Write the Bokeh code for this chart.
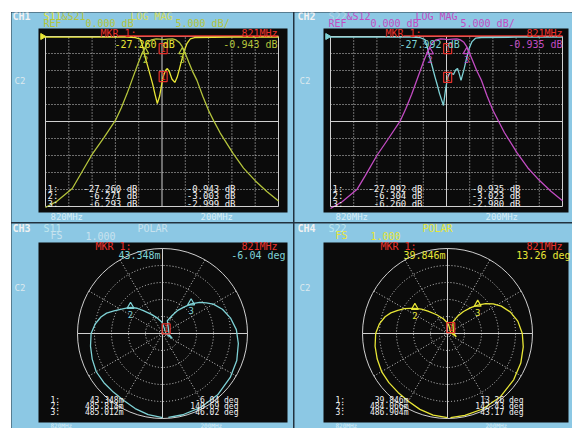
import numpy as np
from bokeh.plotting import figure
from bokeh.layouts import row, column, Spacer
from bokeh.models import Label, Range1d
from bokeh.embed import file_html
from bokeh.resources import INLINE
from bokeh.core.properties import value

# ---------------- data ----------------
center_mhz = 820.0
span_mhz = 200.0
ref_db = 0.0
scale_db = 5.0
n_div = 10
marker_freqs = [821.0, 805.7, 837.4]

ch1_s21_f = [720, 730, 743, 750, 760, 770, 780, 785, 790, 795, 800, 803, 805.7, 808, 811, 815, 818, 821,
             825, 829, 832, 835, 837.4, 840, 843, 846, 850, 855, 860, 865, 870, 881, 890, 900, 910, 920]
ch1_s21_db = [-50.3, -48.4, -44.7, -40.6, -34.7, -29.8, -24.7, -21.0, -16.8, -12.1, -7.4, -4.9, -3.0, -1.7,
              -1.0, -0.7, -0.8, -0.94, -0.8, -0.7, -1.0, -1.8, -3.0, -5.0, -7.6, -10.1, -12.9, -17.6, -21.8,
              -25.2, -28.4, -34.4, -38.7, -42.4, -45.6, -48.4]
ch1_s11_f = [720, 760, 790, 797, 801.4, 803.5, 805.7, 808, 810, 812, 814, 816, 818, 819.5, 821, 823, 824.6,
             826.5, 828.5, 831, 833, 835, 837.4, 839.5, 841.5, 844.3, 848, 880, 920]
ch1_s11_db = [-0.2, -0.2, -0.2, -0.3, -0.8, -3.0, -6.27, -9.0, -11.5, -14.0, -17.0, -19.7, -17.5, -14.5,
              -11.8, -10.0, -9.4, -10.5, -12.5, -13.5, -12.0, -9.5, -6.29, -3.8, -2.0, -0.7, -0.3, -0.2, -0.2]

ch2_s12_f = ch1_s21_f
ch2_s12_db = [-50.6, -48.6, -44.9, -40.9, -35.0, -30.0, -24.9, -21.2, -17.0, -12.3, -7.6, -5.0, -3.02, -1.7,
              -1.0, -0.7, -0.8, -0.935, -0.8, -0.7, -1.0, -1.7, -2.98, -5.0, -7.5, -10.0, -12.8, -17.5, -21.7,
              -25.0, -28.3, -34.3, -38.6, -42.3, -45.5, -48.3]
ch2_s22_f = [720, 760, 790, 797, 801.4, 803.5, 805.7, 808, 810, 812, 814, 817.4, 819, 821, 823, 826, 828,
             829.5, 831, 832.5, 835, 837.4, 839.5, 842, 845, 850, 880, 920]
ch2_s22_db = [-0.2, -0.2, -0.2, -0.3, -0.9, -3.2, -6.30, -9.2, -11.8, -14.2, -16.8, -20.3, -16.0, -12.0,
              -10.5, -11.2, -9.8, -9.4, -11.0, -12.9, -9.8, -6.26, -3.5, -1.5, -0.5, -0.3, -0.2, -0.2]

ch3_s11_ang = [-90, -100, -110, -120, -130, -140, -150, -160, -170, 180, 172, 165, 160, 155, 150, 145, 140.69,
               135, 130, 120, 108, 95, 90, -6.04, -27, -10, 69, 62, 57, 51, 46.02, 40, 35, 30, 22, 13, 3,
               -7.5, -20, -33, -48, -63, -76, -86]
ch3_s11_mag = [0.99, 0.97, 0.94, 0.91, 0.90, 0.90, 0.90, 0.88, 0.86, 0.84, 0.80, 0.75, 0.70, 0.63, 0.57, 0.52,
               0.4858, 0.42, 0.35, 0.26, 0.19, 0.14, 0.12, 0.0433, 0.13, 0.08, 0.16, 0.24, 0.32, 0.40, 0.4850,
               0.57, 0.63, 0.69, 0.76, 0.82, 0.87, 0.90, 0.93, 0.95, 0.97, 0.98, 0.985, 0.99]
ch4_s22_ang = [-90, -100, -110, -120, -130, -140, -150, -160, -170, 180, 172, 165, 160, 155, 150, 146, 142.43,
               137, 131, 120, 106, 92, 82, 13.26, -20, 5, 65, 60, 54, 48, 43.17, 38, 33, 27, 19, 10, 0,
               -10, -22, -35, -50, -65, -78, -88]
ch4_s22_mag = [0.99, 0.975, 0.95, 0.92, 0.905, 0.90, 0.895, 0.88, 0.865, 0.845, 0.81, 0.76, 0.71, 0.645,
               0.585, 0.53, 0.4841, 0.42, 0.35, 0.255, 0.18, 0.13, 0.10, 0.0398, 0.11, 0.07, 0.15, 0.23, 0.32,
               0.41, 0.4869, 0.57, 0.64, 0.71, 0.78, 0.84, 0.88, 0.905, 0.93, 0.95, 0.97, 0.98, 0.985, 0.99]

ch3_mkr_mag = [0.043348, 0.485814, 0.485012]
ch3_mkr_ang = [-6.04, 140.69, 46.02]
ch4_mkr_mag = [0.039846, 0.484066, 0.486904]
ch4_mkr_ang = [13.26, 142.43, 43.17]

ch1_read_a = ["-27.260 dB", "-6.271 dB", "-6.293 dB"]
ch1_read_b = ["-0.943 dB", "-3.003 dB", "-2.999 dB"]
ch2_read_a = ["-27.992 dB", "-6.304 dB", "-6.260 dB"]
ch2_read_b = ["-0.935 dB", "-3.023 dB", "-2.980 dB"]
ch3_read_a = ["43.348m", "485.814m", "485.012m"]
ch3_read_b = ["-6.04 deg", "140.69 deg", "46.02 deg"]
ch4_read_a = ["39.846m", "484.066m", "486.904m"]
ch4_read_b = ["13.26 deg", "142.43 deg", "43.17 deg"]

# ---------------- style ----------------
FONT = "DejaVu Sans Mono"
BLUE = "#8cc8e4"
BLACK = "#0b0b0b"
GRIDC = "#d0d0d0"
RED = "#e8322c"
YEL = "#e8e636"
OLIVE = "#b4c43c"
CYAN = "#7fd2d6"
MAG = "#c24cc2"
WHITE = "#f2f2f2"
FADE = "#d8eef8"
SEP = "#22323f"

# page-pixel geometry of each panel (figure box) and of its black screen area
PANELS = {
    "tl": dict(left=11, top=12, w=282, h=210, fl=38, ft=28, fr=287, fb=212),
    "tr": dict(left=294, top=12, w=278, h=210, fl=323, ft=28, fr=568, fb=212),
    "bl": dict(left=11, top=223, w=282, h=205, fl=38, ft=242, fr=287, fb=422),
    "br": dict(left=294, top=223, w=278, h=205, fl=323, ft=242, fr=568, fb=422),
}


def make_fig(pn, xr, yr):
    p = figure(width=pn["w"], height=pn["h"], x_range=Range1d(*xr), y_range=Range1d(*yr),
               min_border=0, min_border_left=0, min_border_right=0, min_border_top=0, min_border_bottom=0,
               toolbar_location=None, output_backend="svg", x_axis_location=None, y_axis_location=None,
               background_fill_color=BLUE, border_fill_color=BLUE, outline_line_color=None)
    p.grid.visible = False
    return p


def converter(pn, xr, yr):
    def cv(px, py):
        x = xr[0] + (px - pn["left"]) / pn["w"] * (xr[1] - xr[0])
        y = yr[1] - (py - pn["top"]) / pn["h"] * (yr[1] - yr[0])
        return x, y
    return cv


def screen_area(p, cv, pn):
    x0, y0 = cv(pn["fl"], pn["fb"])
    x1, y1 = cv(pn["fr"], pn["ft"])
    p.quad(left=[x0], right=[x1], bottom=[y0], top=[y1], fill_color=BLACK, line_color=None)


def txt(p, cv, px, py, s, color, size=10, align="left", bold=False):
    x, y = cv(px, py)
    lab = Label(x=x, y=y, text=s, text_color=color, text_font=FONT, text_font_size=f"{size}px",
                text_align=align, text_baseline="middle",
                text_font_style="bold" if bold else "normal")
    p.add_layout(lab)


def mag_panel(pn, grid, traces, dx, hdr, read_a, read_b, ch):
    gx0, gy0, gx1, gy1 = grid
    f0 = center_mhz - span_mhz / 2
    f1 = center_mhz + span_mhz / 2
    fpp = span_mhz / (gx1 - gx0)
    bottom_db = ref_db - n_div * scale_db
    dpp = (n_div * scale_db) / (gy1 - gy0)
    xr = (f0 - (gx0 - pn["left"]) * fpp, f1 + (pn["left"] + pn["w"] - gx1) * fpp)
    yr = (bottom_db - (pn["top"] + pn["h"] - gy1) * dpp, ref_db + (gy0 - pn["top"]) * dpp)
    p = make_fig(pn, xr, yr)
    cv = converter(pn, xr, yr)
    screen_area(p, cv, pn)

    fk = [f0 + k * span_mhz / n_div for k in range(n_div + 1)]
    dk = [ref_db - k * scale_db for k in range(n_div + 1)]
    solid = (0, n_div // 2, n_div)
    dot_f = [fk[k] for k in range(n_div + 1) if k not in solid]
    dot_d = [dk[k] for k in range(n_div + 1) if k not in solid]
    p.segment(x0=dot_f, y0=bottom_db, x1=dot_f, y1=ref_db, line_color=GRIDC, line_dash="1 2", line_width=1)
    p.segment(x0=f0, y0=dot_d, x1=f1, y1=dot_d, line_color=GRIDC, line_dash="1 2", line_width=1)
    p.segment(x0=[fk[k] for k in solid], y0=bottom_db, x1=[fk[k] for k in solid], y1=ref_db,
              line_color=GRIDC, line_width=1)
    p.segment(x0=f0, y0=[dk[k] for k in solid], x1=f1, y1=[dk[k] for k in solid],
              line_color=GRIDC, line_width=1)

    # reference-level arrow
    p.scatter(x=[f0 - 3 * fpp], y=[ref_db], marker="triangle", angle=-np.pi / 2, size=6,
              fill_color=traces[0][2], line_color=traces[0][2])
    # marker bar along the top of the graticule
    p.segment(x0=[f0 + 73 * fpp], y0=[ref_db + 0.6 * dpp], x1=[f1], y1=[ref_db + 0.6 * dpp],
              line_color=RED, line_width=1.5)

    for f, db, col in traces:
        p.line(f, db, line_color=col, line_width=1.3)

    refl, trans = traces[0], traces[1]
    ym_t = float(np.interp(marker_freqs[0], trans[0], trans[1]))
    ym_r = float(np.interp(marker_freqs[0], refl[0], refl[1]))
    bx = [marker_freqs[0], marker_freqs[0]]
    by = [ym_t - 9 * dpp, ym_r]
    p.rect(x=bx, y=by, width=8, height=10, width_units="screen", height_units="screen",
           fill_color=None, line_color=RED, line_width=1.2)
    p.text(x=bx, y=by, text=["1", "1"], text_color=RED, text_font=value(FONT), text_font_size="8px",
           text_align="center", text_baseline="middle")
    mf = marker_freqs[1:]
    my = [float(np.interp(f, trans[0], trans[1])) for f in mf]
    p.scatter(x=mf, y=[v - 5 * dpp for v in my], marker="triangle", size=7, fill_color=None,
              line_color=trans[2], line_width=1.2)
    p.text(x=mf, y=[v - 13 * dpp for v in my], text=["2", "3"], text_color=trans[2],
           text_font=value(FONT), text_font_size="9px", text_align="center", text_baseline="middle")

    txt(p, cv, 12 + dx, 15.5, ch, WHITE, bold=True)
    for (px, py, s, col) in hdr:
        txt(p, cv, px + dx, py, s, col)
    txt(p, cv, 14 + dx, 80.5, "C2", "#dce8ee", size=9)
    txt(p, cv, 100 + dx, 33, "MKR   1:", RED)
    txt(p, cv, 277 + dx, 33, "821MHz", RED, align="right")
    txt(p, cv, 114 + dx, 43.5, read_a[0], refl[2])
    txt(p, cv, 277 + dx, 43.5, read_b[0], trans[2], align="right")
    for i in range(3):
        yy = 188 + 7.5 * i
        txt(p, cv, 47 + dx, yy, f"{i + 1}:", WHITE, size=9)
        txt(p, cv, 137 + dx, yy, read_a[i], WHITE, size=9, align="right")
        txt(p, cv, 235 + dx, yy, read_b[i], WHITE, size=9, align="right")
    txt(p, cv, 50 + dx, 216.5, "820MHz", FADE, size=9)
    txt(p, cv, 200 + dx, 216.5, "200MHz", FADE, size=9)
    return p


def polar_panel(pn, cx, cy, mag, ang, col, mkr_mag, mkr_ang, dx, hdr, read_a, read_b, ch):
    R = 85.0
    xr = ((pn["left"] - cx) / R, (pn["left"] + pn["w"] - cx) / R)
    yr = ((cy - pn["top"] - pn["h"]) / R, (cy - pn["top"]) / R)
    p = make_fig(pn, xr, yr)
    cv = converter(pn, xr, yr)
    screen_area(p, cv, pn)
    upp = 1.0 / R

    rings = [0.2, 0.4, 0.6, 0.8]
    p.circle(x=[0] * len(rings), y=[0] * len(rings), radius=rings, fill_color=None,
             line_color=GRIDC, line_dash="1 2", line_width=1)
    p.circle(x=[0], y=[0], radius=[1.0], fill_color=None, line_color=GRIDC, line_width=1)
    spokes = [a for a in range(0, 360, 30) if a % 90 != 0]
    p.segment(x0=0, y0=0, x1=[np.cos(np.radians(a)) for a in spokes],
              y1=[np.sin(np.radians(a)) for a in spokes], line_color=GRIDC, line_dash="1 2", line_width=1)
    p.segment(x0=[-1, 0], y0=[0, -1], x1=[1, 0], y1=[0, 1], line_color=GRIDC, line_width=1)

    a = np.radians(ang)
    p.line(np.array(mag) * np.cos(a), np.array(mag) * np.sin(a), line_color=col, line_width=1.3)

    ma = np.radians(mkr_ang)
    mx = np.array(mkr_mag) * np.cos(ma)
    my = np.array(mkr_mag) * np.sin(ma)
    p.rect(x=[mx[0]], y=[my[0] + 5 * upp], width=8, height=10, width_units="screen", height_units="screen",
           fill_color=None, line_color=RED, line_width=1.2)
    p.text(x=[mx[0]], y=[my[0] + 5 * upp], text=["1"], text_color=RED, text_font=value(FONT),
           text_font_size="8px", text_align="center", text_baseline="middle")
    p.scatter(x=list(mx[1:]), y=list(my[1:] + 1 * upp), marker="triangle", size=7, fill_color=None,
              line_color=col, line_width=1.2)
    p.text(x=list(mx[1:]), y=list(my[1:] - 7 * upp), text=["2", "3"], text_color=col,
           text_font=value(FONT), text_font_size="9px", text_align="center", text_baseline="middle")

    txt(p, cv, 12 + dx, 228, ch, WHITE, bold=True)
    for (px, py, s, c) in hdr:
        txt(p, cv, px + dx, py, s, c)
    txt(p, cv, 14 + dx, 287.5, "C2", "#dce8ee", size=9)
    txt(p, cv, 95 + dx, 246, "MKR   1:", RED)
    txt(p, cv, 277 + dx, 246, "821MHz", RED, align="right")
    txt(p, cv, 118 + dx, 255, read_a[0], col)
    txt(p, cv, 285 + dx, 255, read_b[0], col, align="right")
    for i in range(3):
        yy = 399.5 + 6.3 * i
        txt(p, cv, 50 + dx, yy, f"{i + 1}:", WHITE, size=8)
        txt(p, cv, 123 + dx, yy, read_a[i], WHITE, size=8, align="right")
        txt(p, cv, 238 + dx, yy, read_b[i], WHITE, size=8, align="right")
    txt(p, cv, 50 + dx, 424.8, "820MHz", FADE, size=6)
    txt(p, cv, 200 + dx, 424.8, "200MHz", FADE, size=6)
    return p


hdr1 = [(43, 15.5, "S11", YEL), (61, 15.5, "&S21", OLIVE), (130, 15.5, "LOG MAG", "#d6dc5a"),
        (43, 23, "REF", OLIVE), (85, 23, "0.000 dB", OLIVE), (175, 23, "5.000 dB/", OLIVE)]
hdr2 = [(43, 15.5, "S22", "#b6d6e6"), (61, 15.5, "&S12", MAG), (130, 15.5, "LOG MAG", MAG),
        (43, 23, "REF", MAG), (85, 23, "0.000 dB", MAG), (175, 23, "5.000 dB/", MAG)]
hdr3 = [(43, 228, "S11", "#bfe6ee"), (137, 228, "POLAR", "#c8e2ee"), (50, 235, "FS", "#c8e2ee"),
        (85, 235, "1.000", "#c8e2ee")]
hdr4 = [(43, 228, "S22", "#bfe6ee"), (137, 228, "POLAR", YEL), (50, 235, "FS", YEL),
        (85, 235, "1.000", YEL)]

p1 = mag_panel(PANELS["tl"], (45, 36, 278, 206),
               [(ch1_s11_f, ch1_s11_db, YEL), (ch1_s21_f, ch1_s21_db, OLIVE)], 0, hdr1,
               ch1_read_a, ch1_read_b, "CH1")
p2 = mag_panel(PANELS["tr"], (330, 36, 562, 206),
               [(ch2_s22_f, ch2_s22_db, CYAN), (ch2_s12_f, ch2_s12_db, MAG)], 285, hdr2,
               ch2_read_a, ch2_read_b, "CH2")
p3 = polar_panel(PANELS["bl"], 162, 333, ch3_s11_mag, ch3_s11_ang, CYAN, ch3_mkr_mag, ch3_mkr_ang, 0,
                 hdr3, ch3_read_a, ch3_read_b, "CH3")
p4 = polar_panel(PANELS["br"], 447, 333, ch4_s22_mag, ch4_s22_ang, YEL, ch4_mkr_mag, ch4_mkr_ang, 285,
                 hdr4, ch4_read_a, ch4_read_b, "CH4")

top = row(p1, p2, spacing=1)
bot = row(p3, p4, spacing=1)
grid = column(top, bot, spacing=1, styles={"background-color": SEP})
page = column(Spacer(height=12), row(Spacer(width=11), grid))

open("out.html", "w").write(file_html(page, INLINE))
